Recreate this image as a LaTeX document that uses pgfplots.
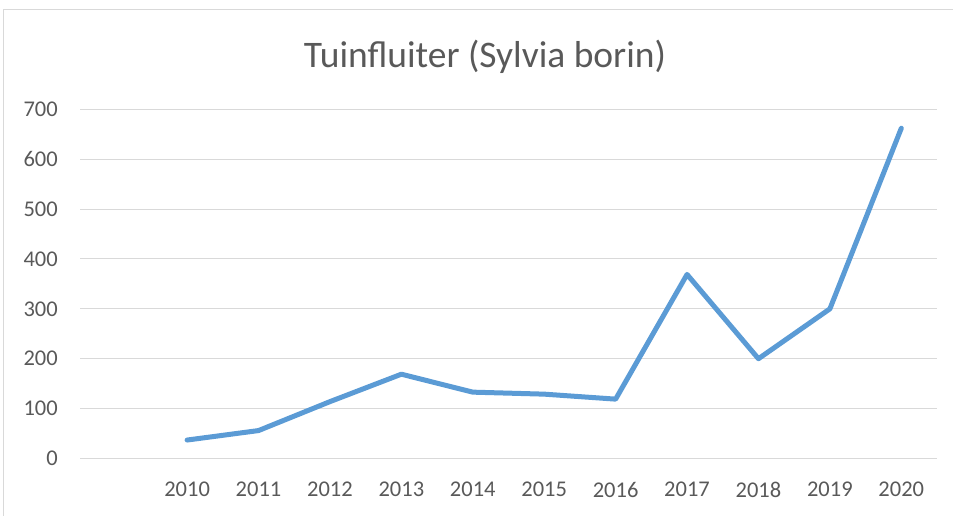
\documentclass[border=0pt]{standalone}
\usepackage{pgfplots}
\pgfplotsset{compat=1.18}
\usepackage{fontspec}
\setmainfont{Carlito}
\definecolor{linecol}{HTML}{5B9BD5}
\definecolor{gridcol}{HTML}{D9D9D9}
\definecolor{txtcol}{HTML}{595959}
\begin{document}
\begin{tikzpicture}
\useasboundingbox (0,0) rectangle (953bp,516bp);
\draw[gridcol, line width=1bp] (3bp,-20bp) -- (3bp,506bp) -- (980bp,506bp);
\node[txtcol, font=\fontsize{37.5bp}{45bp}\selectfont] at (485bp,459bp) {Tuinfluiter (Sylvia borin)};
\begin{axis}[
  at={(80bp,57.5bp)}, anchor=south west,
  scale only axis, width=857bp, height=349.2bp,
  xmin=-0.5, xmax=11.5, ymin=0, ymax=700,
  xtick={1,2,3,4,5,6,7,8,9,10,11},
  xticklabels={2010,2011,2012,2013,2014,2015,2016,2017,2018,2019,2020},
  ytick={0,100,200,300,400,500,600,700},
  axis line style={draw=none}, major tick style={draw=none},
  ymajorgrids, grid style={gridcol, line width=1bp},
  /pgf/number format/assume math mode=true,
  ticklabel style={txtcol, font=\fontsize{22.5bp}{27bp}\selectfont, inner sep=0pt},
  yticklabel style={anchor=east, xshift=-22bp},
  xticklabel style={anchor=north, yshift=-23.5bp},
  clip=false,
]
\addplot[linecol, line width=5bp, line cap=round, line join=round] coordinates {
(1,37) (2,56) (3,114) (4,169) (5,133) (6,129) (7,119) (8,369) (9,200) (10,300) (11,662)
};
\end{axis}
\end{tikzpicture}
\end{document}
